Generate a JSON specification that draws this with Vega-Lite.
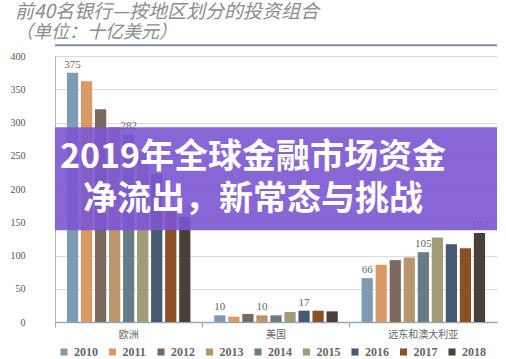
{
  "$schema": "https://vega.github.io/schema/vega-lite/v6.json",
  "width": 442,
  "height": 266,
  "autosize": {"type": "none"},
  "padding": {"left": 55, "top": 56, "right": 9, "bottom": 37},
  "background": "white",
  "title": {
    "text": "前40名银行—按地区划分的投资组合",
    "subtitle": "（单位：十亿美元）",
    "anchor": "start",
    "dx": 5,
    "offset": 2,
    "font": "Noto Sans CJK SC",
    "fontSize": 19,
    "fontStyle": "italic",
    "fontWeight": "normal",
    "color": "#8c8c8c",
    "subtitleFont": "Noto Sans CJK SC",
    "subtitleFontSize": 18,
    "subtitleFontStyle": "italic",
    "subtitleColor": "#8c8c8c",
    "subtitlePadding": 2
  },
  "config": {
    "view": {"stroke": null},
    "axis": {"labelFont": "Liberation Serif", "labelColor": "#555555"},
    "axisY": {"labelOverlap": false}
  },
  "resolve": {"axis": {"y": "independent"}},
  "data": {
    "values": [
      {"region": "欧洲", "year": "2010", "value": 375, "label": "375"},
      {"region": "欧洲", "year": "2011", "value": 362},
      {"region": "欧洲", "year": "2012", "value": 320},
      {"region": "欧洲", "year": "2013", "value": 293},
      {"region": "欧洲", "year": "2014", "value": 282, "label": "282"},
      {"region": "欧洲", "year": "2015", "value": 255},
      {"region": "欧洲", "year": "2016", "value": 222},
      {"region": "欧洲", "year": "2017", "value": 168},
      {"region": "欧洲", "year": "2018", "value": 158, "label": "158"},
      {"region": "美国", "year": "2010", "value": 10, "label": "10"},
      {"region": "美国", "year": "2011", "value": 8},
      {"region": "美国", "year": "2012", "value": 12},
      {"region": "美国", "year": "2013", "value": 10, "label": "10"},
      {"region": "美国", "year": "2014", "value": 10},
      {"region": "美国", "year": "2015", "value": 15},
      {"region": "美国", "year": "2016", "value": 17, "label": "17"},
      {"region": "美国", "year": "2017", "value": 17},
      {"region": "美国", "year": "2018", "value": 16},
      {"region": "远东和澳大利亚", "year": "2010", "value": 66, "label": "66"},
      {"region": "远东和澳大利亚", "year": "2011", "value": 86},
      {"region": "远东和澳大利亚", "year": "2012", "value": 93},
      {"region": "远东和澳大利亚", "year": "2013", "value": 97},
      {"region": "远东和澳大利亚", "year": "2014", "value": 105, "label": "105"},
      {"region": "远东和澳大利亚", "year": "2015", "value": 127},
      {"region": "远东和澳大利亚", "year": "2016", "value": 117},
      {"region": "远东和澳大利亚", "year": "2017", "value": 111},
      {"region": "远东和澳大利亚", "year": "2018", "value": 134, "label": "134"}
    ]
  },
  "layer": [
    {
      "mark": {"type": "bar"},
      "encoding": {
        "x": {
          "field": "region",
          "type": "nominal",
          "sort": ["欧洲", "美国", "远东和澳大利亚"],
          "scale": {"paddingInner": 0, "paddingOuter": 0},
          "axis": {
            "title": null,
            "labelAngle": 0,
            "labelFont": "Noto Sans CJK SC",
            "labelFontSize": 10,
            "labelColor": "#666666",
            "labelPadding": 2,
            "domainColor": "#9aa6b4",
            "domainWidth": 1.5,
            "tickColor": "#9aa6b4",
            "tickSize": 5,
            "bandPosition": 0
          }
        },
        "y": {
          "field": "value",
          "type": "quantitative",
          "scale": {"domain": [0, 400], "nice": false},
          "axis": {
            "title": null,
            "values": [0, 50, 100, 150, 200, 250, 300, 350, 400],
            "labelFontSize": 10,
            "labelPadding": 30,
            "ticks": false,
            "domainColor": "#b0b6bf",
            "gridColor": "#dcdcdc",
            "grid": true
          }
        },
        "xOffset": {
          "field": "year",
          "type": "nominal",
          "scale": {"paddingInner": 0.2, "paddingOuter": 0.85}
        },
        "color": {
          "field": "year",
          "type": "nominal",
          "scale": {
            "domain": ["2010", "2011", "2012", "2013", "2014", "2015", "2016", "2017", "2018"],
            "range": ["#7f9bb4", "#d99a66", "#7b695d", "#b9956d", "#697c84", "#a29b78", "#465b70", "#8b5026", "#4b3f39"]
          },
          "legend": {
            "title": null,
            "orient": "bottom",
            "direction": "horizontal",
            "offset": 4,
            "padding": 3,
            "symbolType": "square",
            "symbolSize": 50,
            "symbolStrokeWidth": 0,
            "labelFont": "Liberation Serif",
            "labelFontSize": 12,
            "labelFontWeight": "bold",
            "labelColor": "#666666",
            "labelOffset": 4,
            "columnPadding": 8.5
          }
        }
      }
    },
    {
      "transform": [{"filter": "datum.label != null"}],
      "mark": {"type": "text", "baseline": "bottom", "dy": -3, "font": "Liberation Serif", "fontSize": 11, "color": "#666666"},
      "encoding": {
        "x": {"field": "region", "type": "nominal", "sort": ["欧洲", "美国", "远东和澳大利亚"]},
        "y": {"field": "value", "type": "quantitative", "axis": null},
        "xOffset": {"field": "year", "type": "nominal"},
        "text": {"field": "label"}
      }
    },
    {
      "data": {"values": [{}]},
      "mark": {"type": "rule", "color": "#7d8da2", "strokeWidth": 2},
      "encoding": {"y": {"datum": 416, "type": "quantitative", "axis": null}}
    },
    {
      "data": {"values": [{}]},
      "mark": {"type": "rect", "color": "#7c55d2", "opacity": 0.9},
      "encoding": {"y": {"datum": 293, "type": "quantitative", "axis": null}, "y2": {"datum": 138}}
    },
    {
      "data": {"values": [{}]},
      "mark": {
        "type": "text",
        "text": "2019年全球金融市场资金",
        "font": "Noto Sans CJK SC",
        "fontSize": 34,
        "fontWeight": "bold",
        "color": "white",
        "align": "center",
        "baseline": "middle",
        "dx": -23
      },
      "encoding": {"y": {"datum": 246, "type": "quantitative", "axis": null}}
    },
    {
      "data": {"values": [{}]},
      "mark": {
        "type": "text",
        "text": "净流出，新常态与挑战",
        "font": "Noto Sans CJK SC",
        "fontSize": 34,
        "fontWeight": "bold",
        "color": "white",
        "align": "center",
        "baseline": "middle",
        "dx": -23
      },
      "encoding": {"y": {"datum": 183, "type": "quantitative", "axis": null}}
    }
  ]
}
